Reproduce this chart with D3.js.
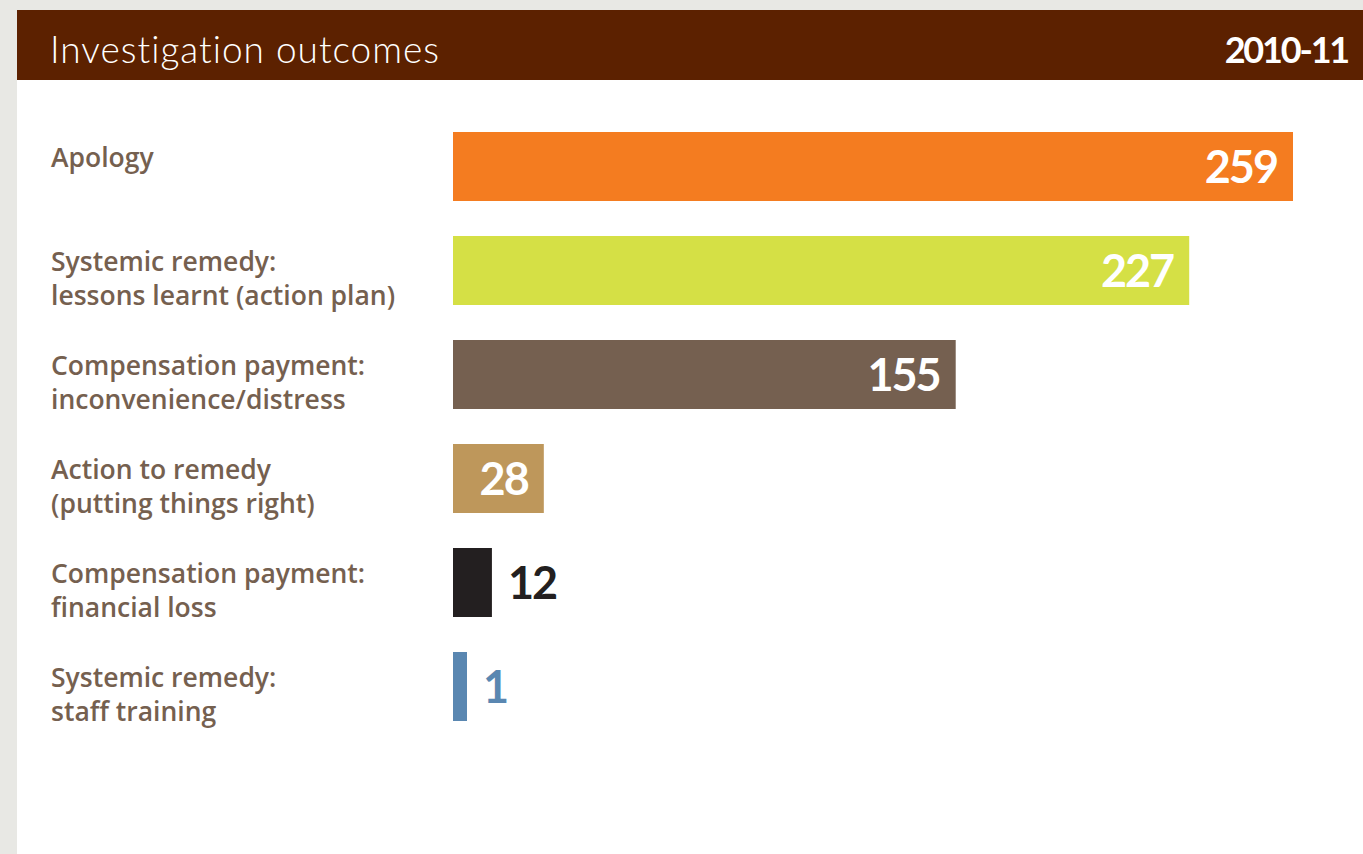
<!DOCTYPE html>
<html>
<head>
<meta charset="utf-8">
<script src="https://cdn.jsdelivr.net/npm/d3@7"></script>
<style>
  html, body { margin: 0; padding: 0; background: #e8e8e4; }
  svg { display: block; font-family: Lato, "Open Sans", sans-serif; }
</style>
</head>
<body>
<div id="chart"></div>
<script>
// data
var categories = [
    ['Apology'],
    ['Systemic remedy:', 'lessons learnt (action plan)'],
    ['Compensation payment:', 'inconvenience/distress'],
    ['Action to remedy', '(putting things right)'],
    ['Compensation payment:', 'financial loss'],
    ['Systemic remedy:', 'staff training']
];
var values = [259, 227, 155, 28, 12, 1];
var colors = ['#f47c20', '#d5e045', '#756050', '#be975b', '#231f20', '#5a87b1'];
var title = 'Investigation outcomes';
var period = '2010-11';

var width = 1363,
    height = 854;

var svg = d3.select('#chart')
    .append('svg')
    .attr('width', width)
    .attr('height', height);

// page background + panel
svg.append('rect')
    .attr('width', width)
    .attr('height', height)
    .attr('fill', '#e8e8e4');
svg.append('rect')
    .attr('x', 17)
    .attr('y', 10)
    .attr('width', width - 17)
    .attr('height', height - 10)
    .attr('fill', '#ffffff');

// header band
svg.append('rect')
    .attr('x', 17)
    .attr('y', 10)
    .attr('width', width - 17)
    .attr('height', 70)
    .attr('fill', '#5c2100');
svg.append('text')
    .attr('x', 50)
    .attr('y', 63)
    .attr('fill', '#ffffff')
    .style('font-size', '37px')
    .style('font-weight', 300)
    .style('letter-spacing', '1px')
    .text(title);
svg.append('text')
    .attr('x', 1348)
    .attr('y', 63)
    .attr('text-anchor', 'end')
    .attr('fill', '#ffffff')
    .style('font-size', '36px')
    .style('font-weight', 700)
    .style('letter-spacing', '-2.2px')
    .text(period);

var idx = d3.range(values.length);

var yScale = d3.scaleBand()
    .domain(idx)
    .range([132, 132 + 104 * values.length - 35])
    .paddingInner(35 / 104);

var xScale = d3.scaleLinear()
    .domain([0, d3.max(values)])
    .range([453, 1293]);

var minBar = 14;
function barW(i) {
    return Math.max(xScale(values[i]) - xScale(0), minBar);
}

// category labels
var labels = svg.append('g');
idx.forEach(function(i) {
    var t = labels.append('text')
        .attr('x', 51)
        .attr('y', yScale(i) + 35)
        .attr('fill', '#75604f')
        .style('font-family', '"Open Sans", sans-serif')
        .style('font-size', '26.5px')
        .style('font-weight', 600);
    categories[i].forEach(function(line, k) {
        t.append('tspan')
            .attr('x', 51)
            .attr('dy', k === 0 ? 0 : 34)
            .text(line);
    });
});

// bars
svg.append('g')
    .selectAll('rect')
    .data(idx)
    .enter()
    .append('rect')
    .attr('x', xScale(0))
    .attr('y', function(i) { return yScale(i); })
    .attr('width', barW)
    .attr('height', yScale.bandwidth())
    .attr('fill', function(i) { return colors[i]; });

// value labels: inside (white) when they fit, otherwise outside in bar colour
var vals = svg.append('g')
    .selectAll('text')
    .data(idx)
    .enter()
    .append('text')
    .attr('y', function(i) { return yScale(i) + yScale.bandwidth() / 2 + 16; })
    .style('font-size', '45px')
    .style('font-weight', 700)
    .style('letter-spacing', '-2px')
    .text(function(i) { return values[i]; });

vals.each(function(i) {
    var el = d3.select(this);
    var tw = this.getComputedTextLength();
    var end = xScale(0) + barW(i);
    if (tw + 32 < barW(i)) {
        el.attr('x', end - 16).attr('text-anchor', 'end').attr('fill', '#ffffff');
    } else {
        el.attr('x', end + 16).attr('text-anchor', 'start').attr('fill', colors[i]);
    }
});
</script>
</body>
</html>
